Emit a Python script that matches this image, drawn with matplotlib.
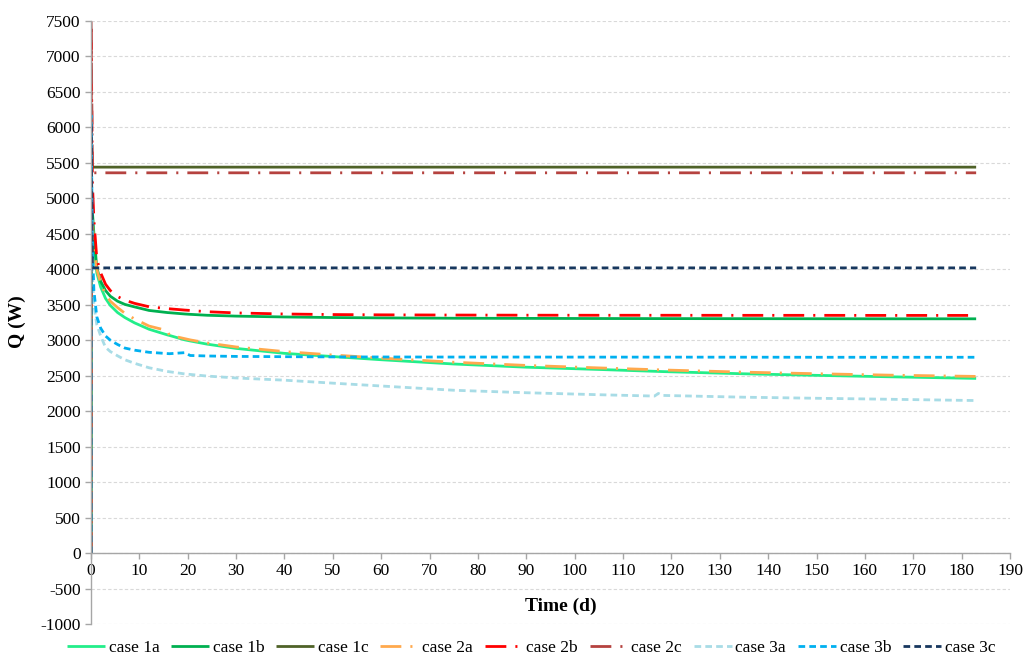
import matplotlib
matplotlib.use("Agg")
import matplotlib.pyplot as plt

plt.rcParams["font.family"] = ["Liberation Serif", "DejaVu Serif"]
plt.rcParams["axes.unicode_minus"] = False

# Time samples (days) shared by all series
time_d = [0, 0.02, 0.3, 0.6, 1.2, 2, 3, 4, 5.5, 7, 9, 12, 15.8, 16.2, 19.4, 20.5,
          24, 30, 40, 50, 60, 75, 90, 105, 116.5, 117.3, 118.2, 135, 150, 165, 183]

# Heat rate Q (W) for each case
case_1a = [0, 4900, 4600, 4300, 3950, 3750, 3590, 3490, 3390, 3320, 3245, 3155, 3075, 3068, 3005, 2990,
           2945, 2885, 2815, 2770, 2725, 2665, 2620, 2588, 2562, 2560, 2558, 2527, 2505, 2485, 2462]
case_1b = [0, 5100, 4800, 4500, 4020, 3830, 3700, 3620, 3550, 3505, 3470, 3420, 3390, 3388, 3370, 3365,
           3352, 3340, 3328, 3320, 3315, 3310, 3308, 3306, 3305, 3305, 3305, 3304, 3303, 3302, 3302]
case_1c = [0, 5520, 5440, 5440, 5440, 5440, 5440, 5440, 5440, 5440, 5440, 5440, 5440, 5440, 5440, 5440,
           5440, 5440, 5440, 5440, 5440, 5440, 5440, 5440, 5440, 5440, 5440, 5440, 5440, 5440, 5440]
case_2a = [0, 4950, 4650, 4350, 4000, 3800, 3650, 3550, 3460, 3380, 3300, 3200, 3135, 3072, 3022, 3005,
           2962, 2905, 2840, 2792, 2748, 2690, 2645, 2610, 2585, 2583, 2581, 2550, 2528, 2508, 2490]
case_2b = [0, 7450, 5200, 4700, 4150, 3950, 3790, 3700, 3615, 3565, 3520, 3472, 3445, 3443, 3425, 3420,
           3402, 3385, 3370, 3362, 3358, 3355, 3353, 3352, 3352, 3352, 3352, 3351, 3351, 3350, 3350]
case_2c = [0, 7500, 5365, 5360, 5360, 5360, 5360, 5360, 5360, 5360, 5360, 5360, 5360, 5360, 5360, 5360,
           5360, 5360, 5360, 5360, 5360, 5360, 5360, 5360, 5360, 5360, 5360, 5360, 5360, 5360, 5360]
case_3a = [0, 4400, 3900, 3500, 3220, 3060, 2900, 2840, 2780, 2725, 2675, 2612, 2560, 2556, 2525, 2518,
           2495, 2468, 2437, 2395, 2355, 2295, 2260, 2232, 2213, 2250, 2222, 2197, 2182, 2168, 2150]
case_3b = [0, 6170, 4300, 3700, 3330, 3170, 3060, 3000, 2940, 2890, 2860, 2830, 2812, 2810, 2825, 2785,
           2778, 2772, 2768, 2765, 2764, 2763, 2763, 2762, 2762, 2762, 2762, 2761, 2760, 2760, 2760]
case_3c = [0, 6060, 4030, 4020, 4020, 4020, 4020, 4020, 4020, 4020, 4020, 4020, 4020, 4020, 4020, 4020,
           4020, 4020, 4020, 4020, 4020, 4020, 4020, 4020, 4020, 4020, 4020, 4020, 4020, 4020, 4020]

labels = ["case 1a", "case 1b", "case 1c", "case 2a", "case 2b", "case 2c",
          "case 3a", "case 3b", "case 3c"]
x_ticks = list(range(0, 191, 10))
y_ticks = list(range(-1000, 7501, 500))

LW = 2.0
dash_dot = (0, (7.5, 3.25, 0.75, 3.25))
dashed = (0, (2.4, 1.5))
styles = [
    ("#22EE8A", "-"),
    ("#00B050", "-"),
    ("#4F6228", "-"),
    ("#FFA94D", dash_dot),
    ("#FF0000", dash_dot),
    ("#B5423F", dash_dot),
    ("#A8DCE6", dashed),
    ("#00B0F0", dashed),
    ("#17375E", dashed),
]
series = [case_1a, case_1b, case_1c, case_2a, case_2b, case_2c, case_3a, case_3b, case_3c]

fig = plt.figure(figsize=(10.26, 6.57), dpi=100)
ax = fig.add_axes([91 / 1026, 1 - 624 / 657, (1010 - 91) / 1026, (624 - 21) / 657])

for vals, lab, (col, ls) in zip(series, labels, styles):
    ax.plot(time_d, vals, color=col, linestyle=ls, linewidth=LW, label=lab,
            solid_capstyle="butt", dash_capstyle="butt")

ax.set_xlim(0, 190)
ax.set_ylim(-1000, 7500)
ax.set_xticks(x_ticks)
ax.set_yticks(y_ticks)
ax.yaxis.grid(True, color="#D9D9D9", linestyle=(0, (3, 2)), linewidth=0.8)
ax.set_axisbelow(True)

for side in ("top", "right"):
    ax.spines[side].set_visible(False)
ax.spines["bottom"].set_position(("data", 0))
for side in ("left", "bottom"):
    ax.spines[side].set_color("#A6A6A6")
    ax.spines[side].set_linewidth(1.0)

ax.tick_params(axis="both", direction="out", length=4, width=1.0, color="#A6A6A6",
               labelsize=12.5, labelcolor="black")
ax.tick_params(axis="x", pad=3)

fig.text(561 / 1026, 1 - 606 / 657, "Time (d)", ha="center", va="center",
         fontsize=14, fontweight="bold")
fig.text(17 / 1026, 1 - 322 / 657, "Q (W)", ha="center", va="center",
         rotation=90, fontsize=14, fontweight="bold")

fig.legend(loc="center", bbox_to_anchor=(531 / 1026, 1 - 648 / 657), ncol=9,
           frameon=False, fontsize=12.5, handlelength=2.2, handletextpad=0.2,
           columnspacing=0.68)

fig.savefig("out.png", dpi=100)
